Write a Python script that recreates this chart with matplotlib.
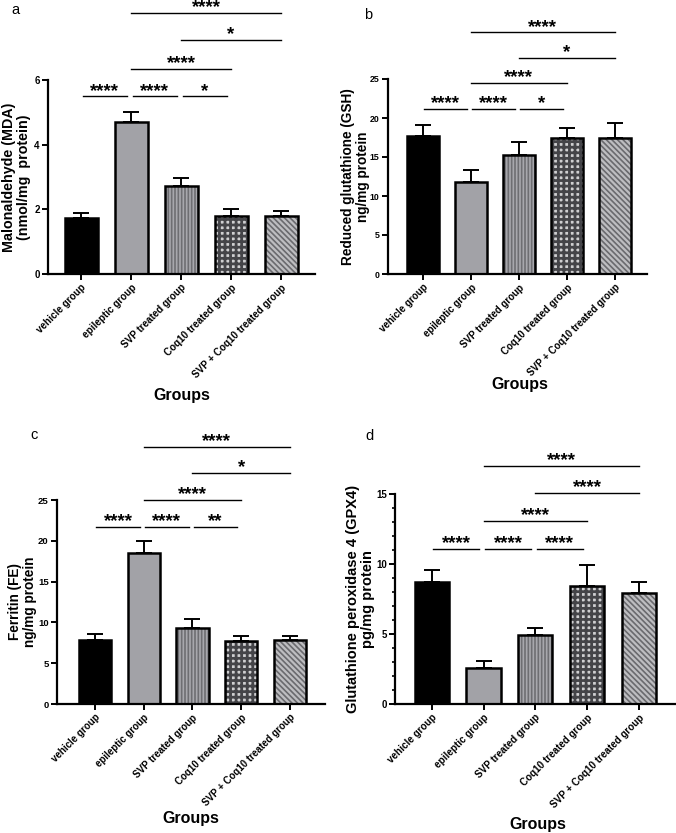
import matplotlib
matplotlib.use("Agg")
import matplotlib.pyplot as plt
from matplotlib.ticker import MultipleLocator

plt.rcParams['font.family'] = ['Liberation Sans', 'DejaVu Sans']
plt.rcParams['font.weight'] = 'bold'
plt.rcParams['hatch.linewidth'] = 1.2

groups = ['vehicle group', 'epileptic group', 'SVP treated group',
          'Coq10 treated group', 'SVP + Coq10 treated group']

mda = [1.73, 4.70, 2.72, 1.80, 1.79]
mda_err = [0.15, 0.30, 0.26, 0.20, 0.17]
gsh = [17.7, 11.8, 15.3, 17.5, 17.4]
gsh_err = [1.4, 1.5, 1.6, 1.2, 1.9]
fe = [7.8, 18.5, 9.3, 7.75, 7.9]
fe_err = [0.75, 1.5, 1.15, 0.55, 0.45]
gpx4 = [8.7, 2.6, 4.9, 8.45, 7.9]
gpx4_err = [0.85, 0.5, 0.55, 1.5, 0.8]

# comparisons: (i, j, label, level)
sig_a = [(0, 1, '****', 0), (1, 2, '****', 0), (2, 3, '*', 0),
         (1, 3, '****', 1), (2, 4, '*', 2), (1, 4, '****', 3)]
sig_b = [(0, 1, '****', 0), (1, 2, '****', 0), (2, 3, '*', 0),
         (1, 3, '****', 1), (2, 4, '*', 2), (1, 4, '****', 3)]
sig_c = [(0, 1, '****', 0), (1, 2, '****', 0), (2, 3, '**', 0),
         (1, 3, '****', 1), (2, 4, '*', 2), (1, 4, '****', 3)]
sig_d = [(0, 1, '****', 0), (1, 2, '****', 0), (2, 3, '****', 0),
         (1, 3, '****', 1), (2, 4, '****', 2), (1, 4, '****', 3)]

fills = ['black', '#a2a2a7', '#a8a8ad', '#cfcfd1', '#bdbdc0']
hatches = [None, None, '|||||', '+++', '\\\\\\\\\\\\']
hatch_cols = ['black', '#a2a2a7', '#6e6e72', '#444448', '#6a6a6e']
hatch_lw = [1.2, 1.2, 1.2, 2.0, 1.2]

W, H = 676, 833
fig = plt.figure(figsize=(W / 100, H / 100), dpi=100)


def box(l, r, t, b):
    return [l / W, 1 - b / H, (r - l) / W, (b - t) / H]


def panel(rect, vals, errs, ymax, ystep, levels, sig, ylabel, xlim, letter, lpos,
          ylab_x, xlab_xy, fs, minor=False):
    ytick_fs, xtick_fs, ylab_fs = fs
    ax = fig.add_axes(rect)
    x = list(range(len(groups)))
    ax.bar(x, vals, width=0.66, color=fills, linewidth=0, zorder=2)
    for k in range(len(groups)):
        if hatches[k]:
            with plt.rc_context({'hatch.linewidth': hatch_lw[k]}):
                ax.bar(x[k], vals[k], width=0.66, color=fills[k], edgecolor=hatch_cols[k],
                       linewidth=0, hatch=hatches[k], zorder=2)
    ax.bar(x, vals, width=0.66, fill=False, edgecolor='black', linewidth=1.8, zorder=3)
    ax.errorbar(x, vals, yerr=[[0] * len(vals), errs], fmt='none', ecolor='black',
                elinewidth=1.4, capsize=5.5, capthick=1.4, zorder=1)
    ax.set_xlim(*xlim)
    ax.set_ylim(0, ymax)
    ax.yaxis.set_major_locator(MultipleLocator(ystep))
    if minor:
        ax.yaxis.set_minor_locator(MultipleLocator(1))
        ax.tick_params(axis='y', which='minor', length=2.5, width=1.2)
    for s in ['top', 'right']:
        ax.spines[s].set_visible(False)
    for s in ['left', 'bottom']:
        ax.spines[s].set_linewidth(1.6)
    ax.tick_params(axis='both', which='major', length=4, width=1.4, labelsize=ytick_fs, pad=2)
    ax.set_xticks(x)
    ax.set_xticklabels(groups, rotation=45, ha='right', rotation_mode='anchor', fontsize=xtick_fs)
    ax.set_ylabel(ylabel, fontsize=ylab_fs, fontweight='bold', linespacing=1.1)
    ax.yaxis.set_label_coords(ylab_x, 0.5)
    ax.set_xlabel('Groups', fontsize=11.5, fontweight='bold')
    ax.xaxis.label.set_va('center')
    ax.xaxis.set_label_coords(*xlab_xy)
    for i, j, lab, lev in sig:
        yv = levels[lev]
        if j - i == 1:
            x0, x1 = i + 0.03, j - 0.08
        else:
            x0, x1 = i, j
        ax.plot([x0, x1], [yv, yv], color='black', lw=1.0, clip_on=False)
        ax.annotate(lab, ((x0 + x1) / 2, yv), xytext=(0, -2.5), textcoords='offset points',
                    ha='center', va='bottom', fontsize=13.5, fontweight='bold',
                    annotation_clip=False)
    fig.text(lpos[0] / W, 1 - lpos[1] / H, letter, fontsize=10.5, fontweight='normal',
             ha='left', va='center')
    return ax


panel(box(48, 315, 80, 274), mda, mda_err, 6, 2, [5.5, 6.35, 7.24, 8.08], sig_a,
      'Malonaldehyde (MDA)\n(nmol/mg  protein)', (-0.66, 4.68), 'a', (11, 10),
      -0.064, (0.50, -0.624), (7, 7.1, 10.3))
panel(box(388, 647, 79, 274), gsh, gsh_err, 25, 5, [21.15, 24.5, 27.7, 31.0], sig_b,
      'Reduced glutathione (GSH)\nng/mg protein', (-0.73, 4.67), 'b', (364, 15),
      -0.068, (0.51, -0.569), (6.3, 7.0, 9.8))
panel(box(57, 325, 500, 704), fe, fe_err, 25, 5, [21.7, 25.0, 28.3, 31.5], sig_c,
      'Ferritin (FE)\nng/mg protein', (-0.78, 4.72), 'c', (30, 435),
      -0.075, (0.50, -0.559), (6.8, 7.0, 9.8))
panel(box(395, 675, 494, 704), gpx4, gpx4_err, 15, 5, [11.1, 13.07, 15.07, 17.0], sig_d,
      'Glutathione peroxidase 4 (GPX4)\npg/mg protein', (-0.71, 4.7), 'd', (365, 436),
      -0.071, (0.51, -0.576), (7, 7.1, 10.5), minor=True)

fig.savefig('out.png', dpi=100)
